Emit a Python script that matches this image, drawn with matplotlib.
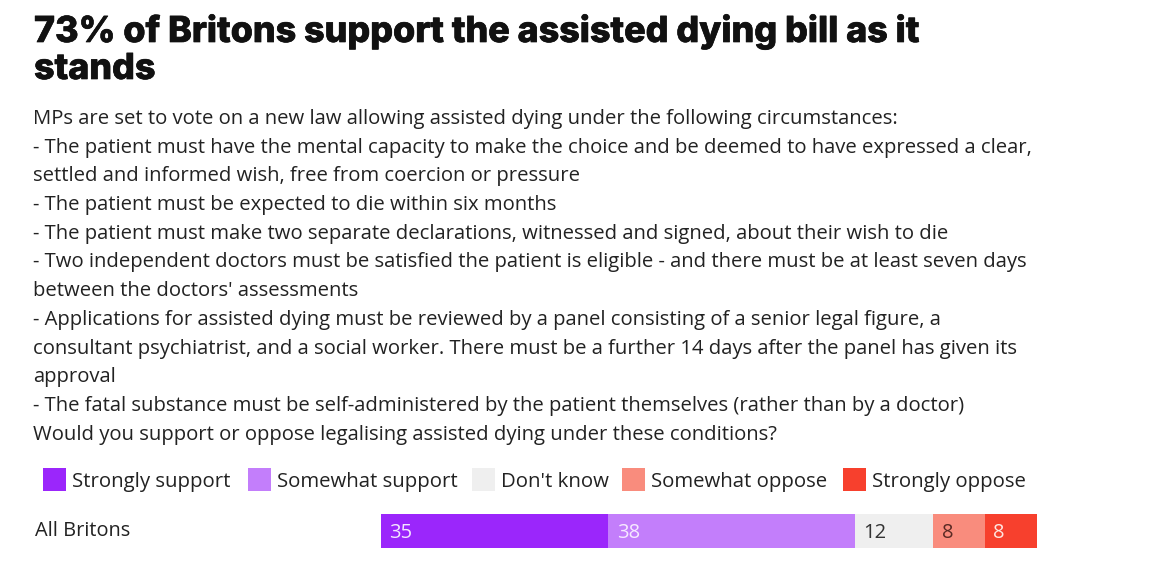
import matplotlib
matplotlib.use("Agg")
import matplotlib.pyplot as plt
import matplotlib.patheffects as pe
from matplotlib.patches import Rectangle

W, H = 1170, 582

title_lines = ["73% of Britons support the assisted dying bill as it", "stands"]
body_lines = [
    "MPs are set to vote on a new law allowing assisted dying under the following circumstances:",
    "- The patient must have the mental capacity to make the choice and be deemed to have expressed a clear,",
    "settled and informed wish, free from coercion or pressure",
    "- The patient must be expected to die within six months",
    "- The patient must make two separate declarations, witnessed and signed, about their wish to die",
    "- Two independent doctors must be satisfied the patient is eligible - and there must be at least seven days",
    "between the doctors' assessments",
    "- Applications for assisted dying must be reviewed by a panel consisting of a senior legal figure, a",
    "consultant psychiatrist, and a social worker. There must be a further 14 days after the panel has given its",
    "approval",
    "- The fatal substance must be self-administered by the patient themselves (rather than by a doctor)",
    "Would you support or oppose legalising assisted dying under these conditions?",
]

categories = ["Strongly support", "Somewhat support", "Don't know", "Somewhat oppose", "Strongly oppose"]
group = "All Britons"
values = [35, 38, 12, 8, 8]

colors = ["#9B26FB", "#C37EFB", "#EFEFEF", "#F98C7D", "#F7402D"]
label_colors = ["#F3E6FF", "#F6E9FF", "#333333", "#5A2A24", "#FFE6E0"]

fig = plt.figure(figsize=(W / 100, H / 100), dpi=100)
fig.patch.set_facecolor("white")

def fx(px):
    return px / W

def fy(py):
    return 1 - py / H

# Title
title_font = "Inter"
for i, line in enumerate(title_lines):
    fig.text(fx(34), fy(42 + i * 37), line, fontsize=25.8, fontweight="heavy",
             family=title_font, color="#111111", va="baseline", ha="left",
             path_effects=[pe.withStroke(linewidth=0.5, foreground="#111111")])

# Body
body_font = "Open Sans"
for i, line in enumerate(body_lines):
    fig.text(fx(33), fy(124 + i * 28.7), line, fontsize=14.55, family=body_font,
             color="#222222", va="baseline", ha="left")

# Legend
leg_sq_x = [43, 248, 472, 622, 843]
for x0, cat, col in zip(leg_sq_x, categories, colors):
    fig.patches.append(Rectangle((fx(x0), fy(491)), fx(23), 23 / H, transform=fig.transFigure,
                                 facecolor=col, edgecolor="none"))
    fig.text(fx(x0 + 29), fy(487), cat, fontsize=14.7, family=body_font, color="#222222",
             va="baseline", ha="left")

# Bar
ax = fig.add_axes([fx(381), fy(548), fx(1037) - fx(381), 34 / H])
left = 0
for v, col, lc in zip(values, colors, label_colors):
    ax.barh(0, v, left=left, height=1.0, color=col, edgecolor="none")
    ax.text(left + 1.3, -0.22, str(v), color=lc, fontsize=14.5, family=body_font,
            va="baseline", ha="left")
    left += v
ax.set_xlim(0, sum(values))
ax.set_ylim(-0.5, 0.5)
ax.axis("off")

fig.text(fx(35), fy(536), group, fontsize=14.4, family=body_font, color="#222222",
         va="baseline", ha="left")

fig.savefig("out.png", dpi=100, facecolor="white")
